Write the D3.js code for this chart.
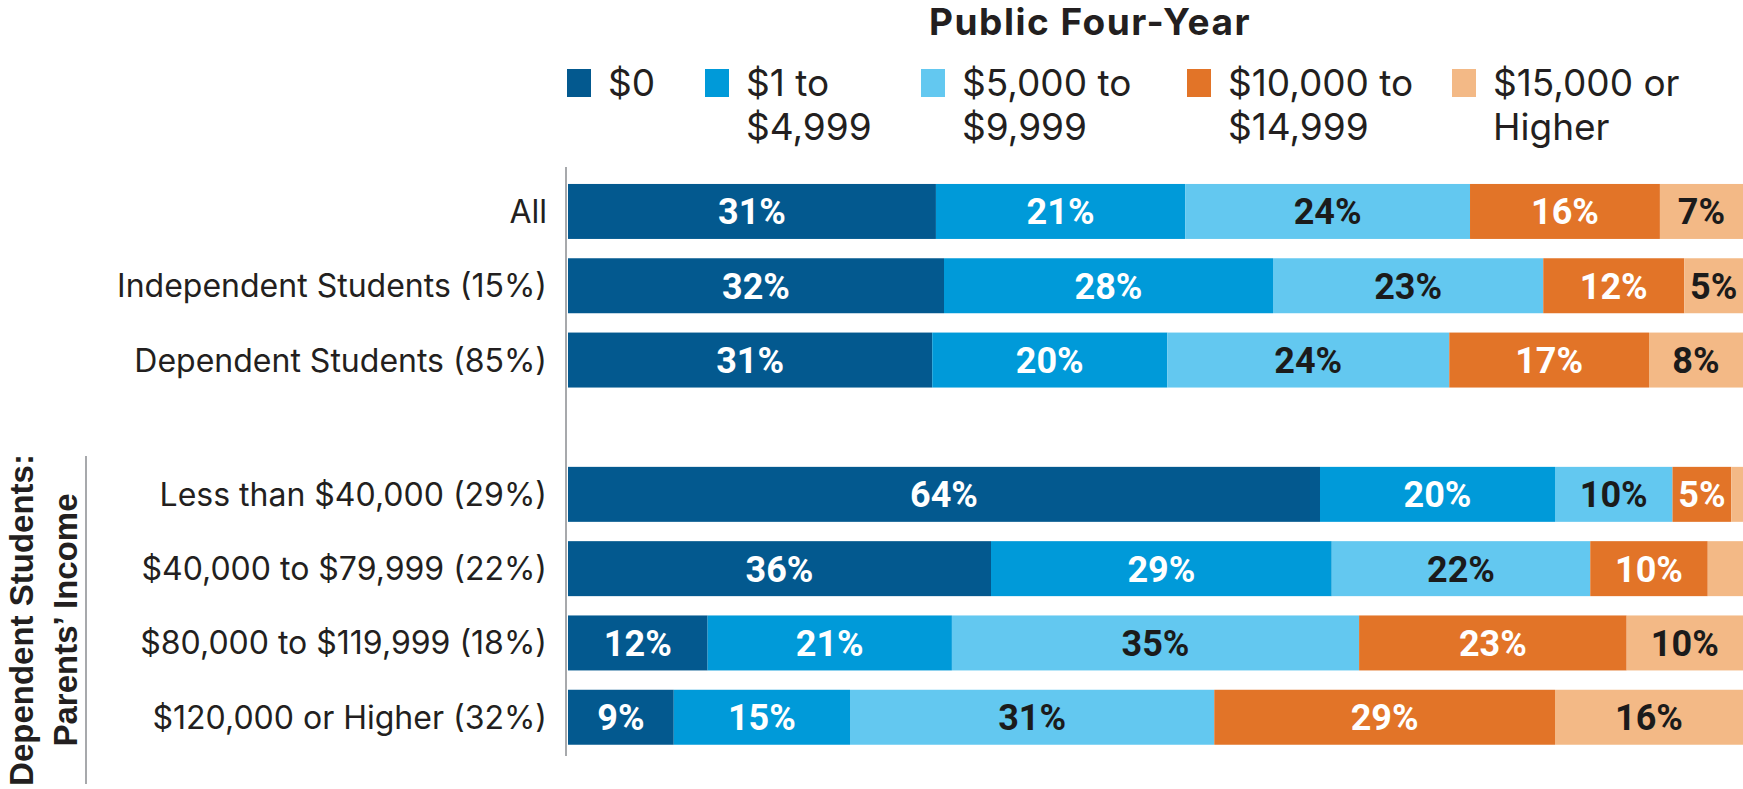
<!DOCTYPE html>
<html><head>
<meta charset="utf-8">
<title>Public Four-Year</title>
<script src="https://cdn.jsdelivr.net/npm/d3@7"></script>
<style>
  body { margin: 0; background: #fff; }
  svg { display: block; }
  .title { font-family: Inter, "Liberation Sans", sans-serif; font-weight: bold; font-size: 37px; letter-spacing: 1.5px; fill: #231f20; }
  .legend text { font-family: Inter, "Liberation Sans", sans-serif; font-size: 37px; fill: #231f20; }
  .cat { font-family: Inter, "Liberation Sans", sans-serif; font-size: 32px; fill: #231f20; }
  .val { font-family: Roboto, "Liberation Sans", sans-serif; font-weight: bold; font-size: 36px; }
  .group-title { font-family: "Liberation Sans", Arial, sans-serif; font-weight: bold; font-size: 33px; fill: #231f20; }
</style>
</head><body>
<svg id="chart" width="1743" height="789"></svg>

<script>
// data (share of students, %)
const categories = [
  "All",
  "Independent Students (15%)",
  "Dependent Students (85%)",
  "Less than $40,000 (29%)",
  "$40,000 to $79,999 (22%)",
  "$80,000 to $119,999 (18%)",
  "$120,000 or Higher (32%)"
];
const groups = ["overall", "overall", "overall", "income", "income", "income", "income"];

const seriesKeys = ["$0", "$1 to $4,999", "$5,000 to $9,999", "$10,000 to $14,999", "$15,000 or Higher"];
const legendLabels = [["$0"], ["$1 to", "$4,999"], ["$5,000 to", "$9,999"], ["$10,000 to", "$14,999"], ["$15,000 or", "Higher"]];

const zero      = [31, 32, 31, 64, 36, 12, 9];
const upTo5k    = [21, 28, 20, 20, 29, 21, 15];
const upTo10k   = [24, 23, 24, 10, 22, 35, 31];
const upTo15k   = [16, 12, 17, 5, 10, 23, 29];
const over15k   = [7, 5, 8, 1, 3, 10, 16];

const seriesValues = [zero, upTo5k, upTo10k, upTo15k, over15k];
const colors = ["#03598f", "#009ad9", "#63c8f0", "#e27428", "#f3b986"];
const labelColors = ["#ffffff", "#ffffff", "#1b1b1b", "#ffffff", "#1b1b1b"];

// layout
const legendX = [567, 705, 921, 1187, 1452];
const groupGap = 60;

let svg = d3.select("#chart");

let rows = categories.map(function(c, i) {
  let r = {cat: c, group: groups[i]};
  seriesKeys.forEach(function(k, j) { r[k] = seriesValues[j][i]; });
  return r;
});

let stacked = d3.stack().keys(seriesKeys).offset(d3.stackOffsetExpand)(rows);

let x = d3.scaleLinear().domain([0, 1]).range([568, 1743]);
let y = d3.scaleBand().domain(categories)
  .range([174.3, 174.3 + 7 * 74.3])
  .paddingInner(0.26).paddingOuter(0.13);

function rowTop(d) {
  return y(d.cat) + (d.group === "income" ? groupGap : 0);
}

// title
svg.append("text").attr("class", "title")
  .attr("x", 1090).attr("y", 35)
  .attr("text-anchor", "middle")
  .text("Public Four-Year");

// legend
let legend = svg.append("g").attr("class", "legend");
seriesKeys.forEach(function(k, i) {
  let g = legend.append("g").attr("transform", "translate(" + legendX[i] + ",0)");
  g.append("rect").attr("x", 0).attr("y", 69).attr("width", 24).attr("height", 28)
    .attr("fill", colors[i]);
  legendLabels[i].forEach(function(line, j) {
    g.append("text").attr("x", 41).attr("y", 96 + j * 44).text(line);
  });
});

// bars
let layers = svg.append("g").selectAll("g")
  .data(stacked)
  .join("g")
  .attr("fill", (d, i) => colors[i]);

layers.selectAll("rect")
  .data(d => d)
  .join("rect")
  .attr("x", d => x(d[0]))
  .attr("width", d => x(d[1]) - x(d[0]))
  .attr("y", d => rowTop(d.data))
  .attr("height", y.bandwidth());

// value labels
stacked.forEach(function(layer, i) {
  svg.append("g").selectAll("text")
    .data(layer.filter(d => d.data[layer.key] >= 5))
    .join("text")
    .attr("class", "val")
    .attr("fill", labelColors[i])
    .attr("text-anchor", "middle")
    .attr("x", d => (x(d[0]) + x(d[1])) / 2)
    .attr("y", d => rowTop(d.data) + y.bandwidth() / 2)
    .attr("dy", "0.36em")
    .text(d => d.data[layer.key] + "%");
});

// category labels
svg.append("g").selectAll("text")
  .data(rows)
  .join("text")
  .attr("class", "cat")
  .attr("text-anchor", "end")
  .attr("x", 547)
  .attr("y", d => rowTop(d) + y.bandwidth() / 2)
  .attr("dy", "0.36em")
  .text(d => d.cat);

// vertical axis line
svg.append("line")
  .attr("x1", 566).attr("x2", 566)
  .attr("y1", 167).attr("y2", 756)
  .attr("stroke", "#a7a9ac").attr("stroke-width", 2);

// group title for parents' income rows
let gt = svg.append("g").attr("class", "group-title");
gt.append("text")
  .attr("transform", "translate(33,620) rotate(-90)")
  .attr("text-anchor", "middle")
  .text("Dependent Students:");
gt.append("text")
  .attr("transform", "translate(77,620) rotate(-90)")
  .attr("text-anchor", "middle")
  .text("Parents\u2019 Income");

svg.append("line")
  .attr("x1", 86).attr("x2", 86)
  .attr("y1", 456).attr("y2", 784)
  .attr("stroke", "#a7a9ac").attr("stroke-width", 2);
</script>
</body></html>
